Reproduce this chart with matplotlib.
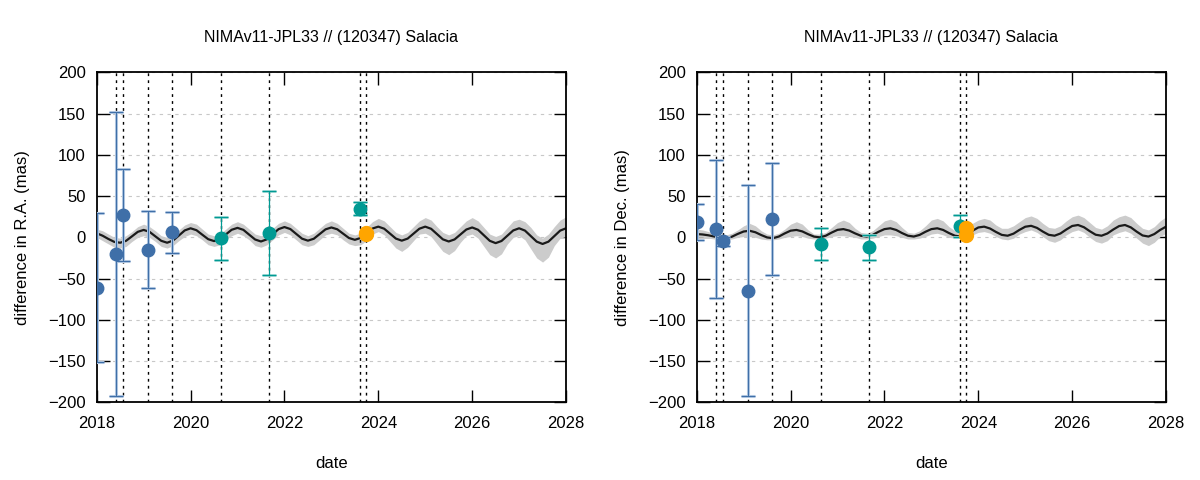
import numpy as np
import matplotlib
matplotlib.use("Agg")
import matplotlib.pyplot as plt

plt.rcParams["font.family"] = ["Liberation Sans", "DejaVu Sans"]

# model grid: 2018.0 .. 2028.0 in steps of 1/8 year
model_start = 2018.0
model_step = 0.125

# R.A. model (mas), one row per year
ra_model = [
    5, 2, -2, -5.5, -6.5, -4.2, 1.2, 6.7,
    9, 6.7, 1.2, -4.2, -6.5, -3.9, 2.2, 8.4,
    11, 8.7, 3.2, -2.2, -4.5, -2.2, 3.5, 9.2,
    11.5, 9.1, 3.2, -2.6, -5, -2.4, 3.8, 10,
    12.5, 10.1, 4.2, -1.6, -4, -1.7, 4, 9.7,
    12, 9.8, 4.5, -0.8, -3, -0.7, 5, 10.7,
    13, 10.5, 4.5, -1.5, -4, -1.5, 4.5, 10.5,
    13, 10.4, 4, -2.4, -5, -2.5, 3.5, 9.5,
    12, 9.2, 2.5, -4.2, -7, -4.4, 2, 8.4,
    11, 8.2, 1.5, -5.2, -8, -5.2, 1.5, 8.2,
    11,
]
ra_upper = [
    10, 8, 4, 0, -1, 2, 7, 13,
    16, 13, 8, 2, 0, 3, 9, 15,
    18, 16, 10, 4, 2, 4, 10, 16,
    19, 16, 10, 4, 2, 4, 11, 17,
    20, 17, 11, 5, 2, 5, 11, 17,
    20, 17, 11, 5, 3, 5, 12, 19,
    23, 20, 13, 6, 3, 6, 13, 20,
    24, 21, 13, 6, 3, 6, 13, 20,
    24, 20, 12, 4, 1, 4, 12, 20,
    22, 19, 12, 3, -1, 4, 13, 21,
    25,
]
ra_lower = [
    0, -4, -8, -12, -13, -11, -5, 0,
    2, 0, -5, -11, -13, -10, -4, 1,
    4, 2, -3, -9, -11, -9, -3, 2,
    5, 2, -3, -10, -12, -9, -3, 3,
    6, 3, -3, -9, -11, -9, -3, 3,
    5, 3, -3, -8, -10, -9, -4, 4,
    7, 3, -5, -13, -17, -12, -4, 4,
    5, 1, -8, -17, -21, -16, -6, 2,
    4, -1, -11, -21, -25, -20, -8, 0,
    2, -3, -14, -25, -30, -24, -10, -1,
    1,
]

# Dec. model (mas)
dec_model = [
    4, 3.5, 2.5, 1, -0.5, -1, 0.8, 4.2,
    7.1, 8, 6.2, 2.8, -0.1, -1, 1, 4.8,
    8.1, 9, 7.2, 3.8, 0.9, 0, 2, 5.8,
    9.1, 10, 8.2, 4.8, 1.9, 1, 3, 6.8,
    10, 11, 9, 5.2, 2, 1, 3, 6.8,
    10, 11, 9, 5.2, 2, 1, 3.5, 8,
    12, 13, 10.7, 6.6, 3, 2, 4.5, 9,
    12.9, 14, 11.5, 7, 3.1, 2, 4.7, 9.5,
    13.8, 15, 12.3, 7.5, 3.2, 2, 4.7, 9.5,
    13.7, 15, 12.1, 6.9, 2.3, 1, 4, 9,
    13,
]
dec_upper = [
    10, 9, 7, 5, 3, 3, 5, 9,
    14, 17, 14, 8, 4, 3, 5, 10,
    16, 19, 16, 9, 4, 4, 6, 12,
    18, 21, 18, 11, 6, 5, 8, 14,
    20, 22, 19, 12, 6, 5, 8, 14,
    21, 23, 20, 13, 8, 9, 11, 17,
    21, 23, 21, 15, 11, 11, 14, 19,
    24, 26, 23, 17, 12, 11, 14, 20,
    25, 27, 24, 18, 12, 10, 14, 21,
    25, 27, 24, 17, 11, 9, 13, 20,
    25,
]
dec_lower = [
    0, 0, -1, -2, -3, -3, -2, 0,
    1, 1, 0, -2, -3, -3, -2, 0,
    1, 2, 1, -1, -2, -2, -1, 1,
    2, 2, 1, 0, -2, -2, -1, 1,
    3, 3, 2, 0, -2, -2, -1, 1,
    4, 5, 3, 0, -1, -1, 0, 3,
    6, 7, 5, 1, -2, -3, -1, 4,
    7, 9, 6, 1, -4, -6, -3, 3,
    7, 9, 6, 0, -5, -7, -4, 3,
    6, 8, 5, -1, -7, -10, -6, 1,
    5,
]

# observation epochs (dotted lines)
epochs = [2018.41, 2018.55, 2019.09, 2019.60, 2020.64, 2021.67, 2023.61, 2023.74]

# blue set
blue_t = [2018.0, 2018.41, 2018.55, 2019.09, 2019.60]
blue_ra = [-61, -20, 27, -15, 6]
blue_ra_err = [90, 172, 56, 47, 25]
blue_dec = [19, 10, -5, -65, 22]
blue_dec_err = [22, 84, 6, 128, 68]

# teal set
teal_t = [2020.64, 2021.67, 2023.61]
teal_ra = [-1, 5, 35]
teal_ra_err = [26, 51, 8]
teal_dec = [-8, -12, 14]
teal_dec_err = [19, 15, 13]

# orange set
orange_t = [2023.74, 2023.74]
orange_ra = [5, 4]
orange_dec = [11, 3]

title = "NIMAv11-JPL33 // (120347) Salacia"
c_blue = "#3f6fa8"
c_teal = "#009a93"
c_orange = "#ffa500"


def draw_panel(ax, model, upper, lower, b_val, b_err, t_val, t_err, o_val, ylabel):
    t = model_start + model_step * np.arange(len(model))
    ax.fill_between(t, lower, upper, color="#cccccc", lw=0, zorder=1)
    ax.plot(t, model, color="#1a1a1a", lw=1.6, zorder=2)
    for e in epochs:
        ax.axvline(e, color="black", lw=1.0, ls=(0, (2, 3)), zorder=3)

    # blue bars: pale wide line under a thin darker one
    ax.errorbar(blue_t, b_val, yerr=b_err, fmt="none", ecolor="#b4c9e3",
                elinewidth=2.2, capsize=5, capthick=2.2, zorder=4)
    ax.errorbar(blue_t, b_val, yerr=b_err, fmt="o", color=c_blue, ms=9,
                ecolor=c_blue, elinewidth=0.8, capsize=5, capthick=0.8, zorder=5)
    ax.errorbar(teal_t, t_val, yerr=t_err, fmt="none", ecolor="#8fd3cf",
                elinewidth=0, capsize=5, capthick=2.0, zorder=4)
    ax.errorbar(teal_t, t_val, yerr=t_err, fmt="o", color=c_teal, ms=9,
                ecolor=c_teal, elinewidth=0.9, capsize=5, capthick=0.8, zorder=5)
    ax.plot(orange_t, o_val, "o", color=c_orange, ms=10, zorder=6)

    ax.set_xlim(2018, 2028)
    ax.set_ylim(-200, 200)
    ax.set_xticks(range(2018, 2029, 2))
    ax.set_yticks(range(-200, 201, 50))
    ax.tick_params(direction="in", length=9, width=1, top=True, right=True,
                   labelsize=12, pad=8, colors="black")
    ax.tick_params(axis="x", pad=10)
    ax.grid(axis="y", color="#c8c8c8", lw=0.8, ls=(0, (3, 4)))
    ax.set_axisbelow(True)
    for s in ax.spines.values():
        s.set_linewidth(1.3)
    ax.set_title(title, fontsize=11.5, pad=22)
    ax.set_xlabel("date", fontsize=12, labelpad=18)
    ax.set_ylabel(ylabel, fontsize=12, labelpad=13)


fig = plt.figure(figsize=(12, 4.8), dpi=100)
ax1 = fig.add_axes([0.0806, 0.162, 0.3911, 0.687])
ax2 = fig.add_axes([0.5806, 0.162, 0.3911, 0.687])

draw_panel(ax1, ra_model, ra_upper, ra_lower, blue_ra, blue_ra_err,
           teal_ra, teal_ra_err, orange_ra, "difference in R.A. (mas)")
draw_panel(ax2, dec_model, dec_upper, dec_lower, blue_dec, blue_dec_err,
           teal_dec, teal_dec_err, orange_dec, "difference in Dec. (mas)")

fig.savefig("out.png", dpi=100)
